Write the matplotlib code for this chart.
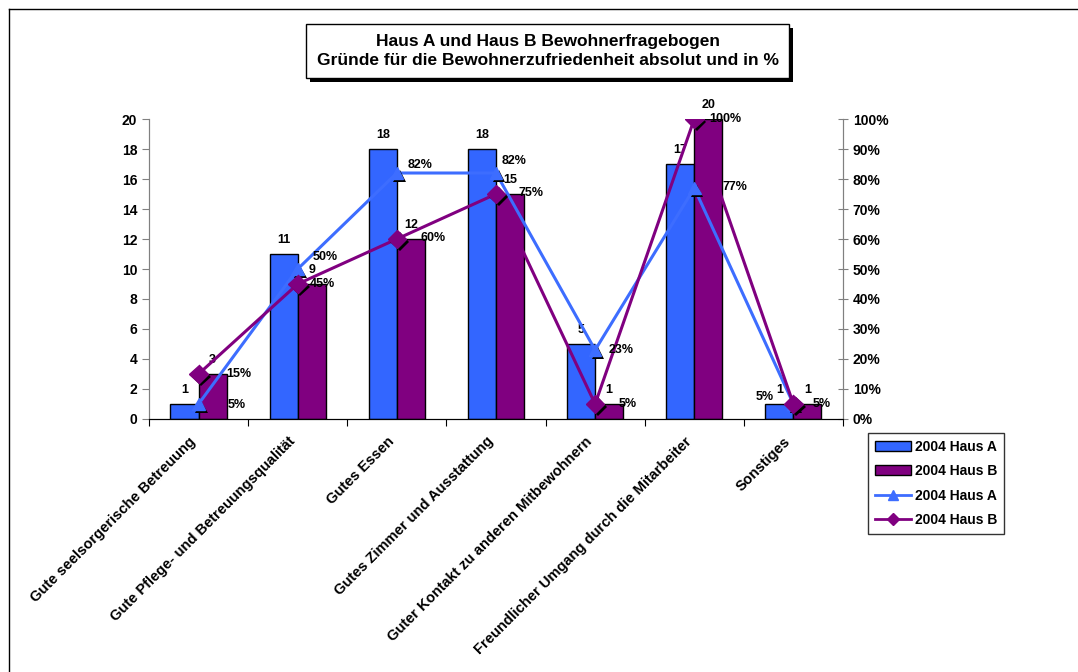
import matplotlib
matplotlib.use('Agg')
import matplotlib.pyplot as plt
import matplotlib.patheffects as pe
from matplotlib.lines import Line2D
from matplotlib.patches import Patch
import numpy as np

plt.rcParams['font.family'] = ['Liberation Sans', 'DejaVu Sans']
plt.rcParams['font.weight'] = 'bold'

categories = ['Gute seelsorgerische Betreuung',
              'Gute Pflege- und Betreuungsqualität',
              'Gutes Essen',
              'Gutes Zimmer und Ausstattung',
              'Guter Kontakt zu anderen Mitbewohnern',
              'Freundlicher Umgang durch die Mitarbeiter',
              'Sonstiges']
haus_a = [1, 11, 18, 18, 5, 17, 1]
haus_b = [3, 9, 12, 15, 1, 20, 1]
haus_a_pct = [5, 50, 82, 82, 23, 77, 5]
haus_b_pct = [15, 45, 60, 75, 5, 100, 5]
series_label_a = '2004 Haus A'
series_label_b = '2004 Haus B'

blue = '#3366FF'
purple = '#800080'
line_blue = '#3D6DFF'

# where the percent labels sit relative to their marker (points)
pct_offsets_a = [(21, -1), (11, 9), (8, 6), (4, 9), (10, 0), (20, 1), (-14, 5)]
pct_offsets_b = [(20, 0), (9, 0), (17, 1), (16, 1), (17, 0), (11, 0), (14, 0)]

fig = plt.figure(figsize=(10.78, 6.72), dpi=100)
ax = fig.add_axes([0.1382, 0.3765, 0.6438, 0.4464])
ax2 = ax.twinx()

x = np.arange(len(categories))
w = 0.283
ax.bar(x - w / 2, haus_a, w, color=blue, edgecolor='black', linewidth=1)
ax.bar(x + w / 2, haus_b, w, color=purple, edgecolor='black', linewidth=1)

for xi, v in zip(x, haus_a):
    ax.annotate(str(v), (xi - w / 2, v), xytext=(0, 6), textcoords='offset points',
                ha='center', va='bottom', fontsize=9)
for xi, v in zip(x, haus_b):
    ax.annotate(str(v), (xi + w / 2, v), xytext=(0, 6), textcoords='offset points',
                ha='center', va='bottom', fontsize=9)

ax.set_xlim(-0.5, len(categories) - 0.5)
ax.set_ylim(0, 20)
ax.set_yticks(range(0, 21, 2))
ax.set_xticks(np.arange(-0.5, len(categories), 1.0))
ax.set_xticklabels([])
ax.tick_params(axis='x', length=5, direction='out', color='black')
ax.tick_params(axis='y', length=5, direction='out', labelsize=10, color='#808080')
for t in ax.get_yticklabels():
    t.set_fontweight('bold')

for xi, name in zip(x, categories):
    ax.text(xi - 0.05, -1.35, name, rotation=45, rotation_mode='anchor', ha='right', va='center',
            fontsize=10.5, fontweight='bold')

# percentage lines on the secondary axis
a_frac = np.array(haus_a_pct) / 100
b_frac = np.array(haus_b_pct) / 100
ax2.plot(x, a_frac, color=line_blue, linewidth=2.2, zorder=3)
ax2.plot(x, b_frac, color=purple, linewidth=2.2, zorder=3)
shadow = [pe.SimplePatchShadow(offset=(2, -2), shadow_rgbFace='black', alpha=1.0), pe.Normal()]
ax2.plot(x, a_frac, linestyle='none', marker='^', markersize=9, color=line_blue,
         markeredgecolor=line_blue, path_effects=shadow, zorder=4)
ax2.plot(x, b_frac, linestyle='none', marker='D', markersize=9.5, color=purple,
         markeredgecolor=purple, path_effects=shadow, zorder=4)

for xi, p, off in zip(x, haus_a_pct, pct_offsets_a):
    ax2.annotate(f'{p}%', (xi, p / 100), xytext=off, textcoords='offset points',
                 ha='left' if off[0] >= 0 else 'right', va='center', fontsize=9)
for xi, p, off in zip(x, haus_b_pct, pct_offsets_b):
    ax2.annotate(f'{p}%', (xi, p / 100), xytext=off, textcoords='offset points',
                 ha='left', va='center', fontsize=9)

ax2.set_ylim(0, 1)
ax2.set_yticks(np.arange(0, 1.01, 0.1))
ax2.set_yticklabels([f'{int(round(v * 100))}%' for v in np.arange(0, 1.01, 0.1)])
ax2.tick_params(axis='y', length=7, direction='inout', labelsize=10, color='#808080')
for t in ax2.get_yticklabels():
    t.set_fontweight('bold')

for a in (ax, ax2):
    a.spines['top'].set_visible(False)
    a.spines['left'].set_color('#808080')
    a.spines['right'].set_color('#808080')
    a.spines['bottom'].set_color('black')
    a.patch.set_visible(False)

title = fig.text(0.508, 0.924,
                 'Haus A und Haus B Bewohnerfragebogen\nGründe für die Bewohnerzufriedenheit absolut und in %',
                 ha='center', va='center', fontsize=12.5, fontweight='bold', linespacing=1.3,
                 bbox=dict(boxstyle='square,pad=0.6', facecolor='white', edgecolor='black', linewidth=1))
title.get_bbox_patch().set_path_effects(
    [pe.SimplePatchShadow(offset=(3, -3), shadow_rgbFace='black', alpha=1.0), pe.Normal()])

handles = [Patch(facecolor=blue, edgecolor='black', linewidth=1),
           Patch(facecolor=purple, edgecolor='black', linewidth=1),
           Line2D([], [], color=line_blue, linewidth=2, marker='^', markersize=7),
           Line2D([], [], color=purple, linewidth=2, marker='D', markersize=6)]
leg = fig.legend(handles, [series_label_a, series_label_b, series_label_a, series_label_b],
                 loc='upper left', bbox_to_anchor=(0.805, 0.356), fontsize=10,
                 frameon=True, fancybox=False, handlelength=2.6, handletextpad=0.3,
                 borderpad=0.5, labelspacing=0.75, borderaxespad=0)
leg.get_frame().set_edgecolor('black')
leg.get_frame().set_linewidth(1)
for t in leg.get_texts():
    t.set_fontweight('bold')

# outer chart frame
fig.add_artist(Line2D([9 / 1078, 1], [1 - 9 / 672, 1 - 9 / 672], color='black', linewidth=1))
fig.add_artist(Line2D([9 / 1078, 9 / 1078], [0, 1 - 9 / 672], color='black', linewidth=1))

fig.savefig('out.png', dpi=100)
